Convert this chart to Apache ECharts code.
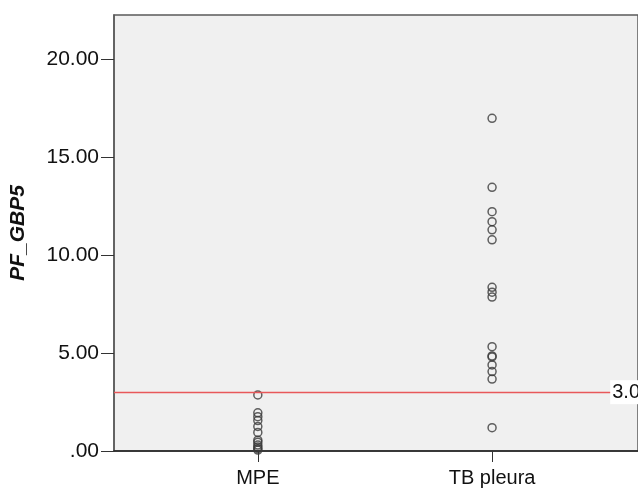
<!DOCTYPE html>
<html>
<head>
<meta charset="utf-8">
<script src="https://cdn.jsdelivr.net/npm/echarts@6/dist/echarts.min.js"></script>
<style>html,body{margin:0;padding:0;background:#fff;}#c{width:638px;height:491px;}</style>
</head>
<body>
<div id="c"></div>
<script>
var categories = ['MPE', 'TB pleura'];
var mpeValues = [2.86, 1.95, 1.75, 1.55, 1.25, 0.95, 0.55, 0.45, 0.30, 0.20, 0.12, 0.05];
var tbValues = [16.97, 13.45, 12.21, 11.70, 11.28, 10.77, 8.35, 8.10, 7.85, 5.32, 4.85, 4.80, 4.39, 4.05, 3.67, 1.19];
var yTicks = [0, 5, 10, 15, 20];
var cutoff = 3.0;
var cutoffLabel = '3.0';

var data = [];
mpeValues.forEach(function (v) { data.push([1, v]); });
tbValues.forEach(function (v) { data.push([2, v]); });

var chart = echarts.init(document.getElementById('c'));
chart.setOption({
  animation: false,
  backgroundColor: '#ffffff',
  grid: {
    left: 112, top: 15, right: -2, bottom: 40,
    show: true, backgroundColor: '#f0f0f0', borderColor: '#5a5a5a', borderWidth: 1.5
  },
  xAxis: {
    type: 'value', min: 0.386, max: 2.623,
    splitLine: { show: false },
    axisLine: { show: true, lineStyle: { color: '#222', width: 1.5 } },
    axisTick: { show: true, customValues: [1, 2], length: 11, lineStyle: { color: '#333', width: 1 } },
    axisLabel: {
      customValues: [1, 2], color: '#111', fontSize: 20, fontFamily: 'Liberation Sans, Arial', margin: 17,
      formatter: function (v) { return categories[Math.round(v) - 1] || ''; }
    }
  },
  yAxis: {
    type: 'value', min: 0, max: 22.24,
    name: 'PF_GBP5', nameLocation: 'middle', nameGap: 85, nameRotate: 90,
    nameTextStyle: { fontSize: 21, fontWeight: 'bold', fontStyle: 'italic', color: '#111', fontFamily: 'Liberation Sans, Arial' },
    splitLine: { show: false },
    axisLine: { show: true, lineStyle: { color: '#5a5a5a', width: 1.5 } },
    axisTick: { show: true, customValues: yTicks, length: 13, lineStyle: { color: '#333', width: 1 } },
    axisLabel: {
      customValues: yTicks, color: '#111', fontSize: 21, fontFamily: 'Liberation Sans, Arial', margin: 15,
      formatter: function (v) { return v === 0 ? '.00' : v.toFixed(2); }
    }
  },
  series: [{
    type: 'scatter',
    data: data,
    symbol: 'circle',
    symbolSize: 8,
    itemStyle: { color: 'rgba(0,0,0,0)', borderColor: '#3a3a3a', borderWidth: 1.5 },
    markLine: {
      silent: true, symbol: 'none',
      lineStyle: { color: '#e8585a', width: 1.3, type: 'solid' },
      data: [{ yAxis: cutoff }],
      label: {
        show: true, position: 'insideEnd', formatter: cutoffLabel,
        fontSize: 20, color: '#111', fontFamily: 'Liberation Sans, Arial',
        backgroundColor: '#ffffff', padding: [2, 2, 2, 2], distance: [-4, -12]
      }
    }
  }]
});
</script>
</body>
</html>
